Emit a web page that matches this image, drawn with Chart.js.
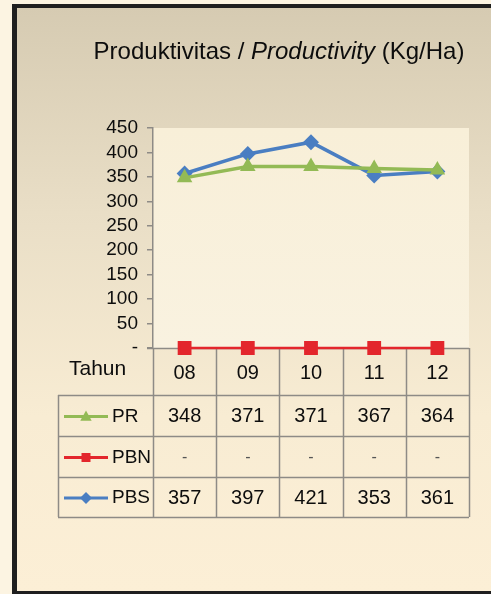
<!DOCTYPE html>
<html><head><meta charset="utf-8">
<script src="https://cdn.jsdelivr.net/npm/chart.js@4.4.0/dist/chart.umd.min.js"></script>
<style>html,body{margin:0;padding:0;background:#fcf4e2;}canvas{display:block;}</style>
</head><body>
<canvas id="c" width="491" height="594"></canvas>
<script>
// ---- data ----
const categories = ['08', '09', '10', '11', '12'];
const seriesNames = ['PR', 'PBN', 'PBS'];
const prValues = [348, 371, 371, 367, 364];
const pbnValues = [0, 0, 0, 0, 0];
const pbsValues = [357, 397, 421, 353, 361];
const yTickValues = [0, 50, 100, 150, 200, 250, 300, 350, 400, 450];
const rowHeaderLabel = 'Tahun';
const titleParts = [
  { text: 'Produktivitas / ', italic: false },
  { text: 'Productivity', italic: true },
  { text: ' (Kg/Ha)', italic: false }
];

// ---- styles ----
const GREEN = '#93ba55', RED = '#e3262c', BLUE = '#4a7ec2';
const GRID = '#8e8b86';
const FONT = '"Liberation Sans", Arial, sans-serif';
const fmt = v => (v === 0 ? '-' : String(v));

const bgPlugin = {
  id: 'bg',
  beforeDraw(chart) {
    const ctx = chart.ctx, W = chart.width, H = chart.height, ca = chart.chartArea;
    ctx.save();
    ctx.fillStyle = '#fcf4e2';
    ctx.fillRect(0, 0, W, H);
    ctx.fillStyle = '#1f1f1f';
    ctx.fillRect(12, 4, W - 12, H - 4);
    const g = ctx.createLinearGradient(0, 8, 0, 591);
    g.addColorStop(0, '#d6cbb2');
    g.addColorStop(0.35, '#e9dec6');
    g.addColorStop(0.7, '#f8ecd3');
    g.addColorStop(1, '#fcefd6');
    ctx.fillStyle = g;
    ctx.fillRect(17, 8, W - 17, 583);
    const pg = ctx.createLinearGradient(0, ca.top, 0, ca.bottom);
    pg.addColorStop(0, '#f8efd8');
    pg.addColorStop(1, '#f9f2e0');
    ctx.fillStyle = pg;
    ctx.fillRect(ca.left, ca.top, ca.right - ca.left, ca.bottom - ca.top);
    // title
    ctx.fillStyle = '#0d0d0d';
    ctx.textBaseline = 'alphabetic';
    ctx.textAlign = 'left';
    let total = 0;
    titleParts.forEach(p => {
      ctx.font = (p.italic ? 'italic ' : '') + '24px ' + FONT;
      total += ctx.measureText(p.text).width;
    });
    let x = 279 - total / 2;
    titleParts.forEach(p => {
      ctx.font = (p.italic ? 'italic ' : '') + '24px ' + FONT;
      ctx.fillText(p.text, x, 59);
      x += ctx.measureText(p.text).width;
    });
    ctx.restore();
  }
};

function drawMarker(ctx, style, x, y, r, color) {
  ctx.fillStyle = color;
  ctx.beginPath();
  if (style === 'triangle') {
    ctx.moveTo(x, y - r);
    ctx.lineTo(x + r * 0.95, y + r * 0.7);
    ctx.lineTo(x - r * 0.95, y + r * 0.7);
  } else if (style === 'rect') {
    ctx.rect(x - r * 0.75, y - r * 0.75, r * 1.5, r * 1.5);
  } else {
    ctx.moveTo(x, y - r); ctx.lineTo(x + r, y); ctx.lineTo(x, y + r); ctx.lineTo(x - r, y);
  }
  ctx.closePath();
  ctx.fill();
}

const tablePlugin = {
  id: 'table',
  beforeDatasetsDraw(chart) {
    const ctx = chart.ctx, ca = chart.chartArea, xs = chart.scales.x;
    const centers = categories.map((c, i) => xs.getPixelForValue(i));
    const colW = (ca.right - ca.left) / categories.length;
    const headTop = ca.bottom, rowLines = [395, 436, 477, 517];
    const tableLeft = 58;
    ctx.save();
    ctx.strokeStyle = GRID;
    ctx.lineWidth = 1.5;
    ctx.beginPath();
    for (let i = 0; i <= categories.length; i++) {
      const x = Math.round(ca.left + i * colW) + 0.5;
      ctx.moveTo(x, headTop); ctx.lineTo(x, rowLines[rowLines.length - 1]);
    }
    ctx.moveTo(ca.left - 6, headTop + 0.5); ctx.lineTo(ca.right, headTop + 0.5);
    rowLines.forEach(y => { ctx.moveTo(tableLeft, y + 0.5); ctx.lineTo(ca.right, y + 0.5); });
    ctx.moveTo(tableLeft + 0.5, rowLines[0]); ctx.lineTo(tableLeft + 0.5, rowLines[rowLines.length - 1]);
    ctx.stroke();

    ctx.fillStyle = '#0d0d0d';
    ctx.textBaseline = 'middle';
    ctx.font = '21px ' + FONT;
    ctx.textAlign = 'left';
    ctx.fillText(rowHeaderLabel, 69, 369);
    ctx.textAlign = 'center';
    ctx.font = '20px ' + FONT;
    categories.forEach((c, i) => ctx.fillText(c, centers[i], 373));

    chart.data.datasets.forEach((ds, r) => {
      const cy = (rowLines[r] + rowLines[r + 1]) / 2 + 1;
      ctx.strokeStyle = ds.borderColor;
      ctx.lineWidth = 3;
      ctx.beginPath(); ctx.moveTo(64, cy); ctx.lineTo(108, cy); ctx.stroke();
      drawMarker(ctx, ds.pointStyle, 86, cy, 6, ds.borderColor);
      ctx.fillStyle = '#0d0d0d';
      ctx.textAlign = 'left';
      ctx.font = '19px ' + FONT;
      ctx.fillText(ds.label, 112, cy);
      ctx.textAlign = 'center';
      ds.data.forEach((v, i) => {
        if (v === 0) { ctx.fillStyle = '#555'; ctx.font = '16px ' + FONT; }
        else { ctx.fillStyle = '#0d0d0d'; ctx.font = '20px ' + FONT; }
        ctx.fillText(fmt(v), centers[i], cy);
      });
    });
    ctx.restore();
  }
};

new Chart(document.getElementById('c'), {
  type: 'line',
  data: {
    labels: categories,
    datasets: [
      { label: seriesNames[0], data: prValues, borderColor: GREEN, backgroundColor: GREEN,
        pointStyle: 'triangle', pointRadius: 5.5, borderWidth: 3.5, clip: false },
      { label: seriesNames[1], data: pbnValues, borderColor: RED, backgroundColor: RED,
        pointStyle: 'rect', pointRadius: 8, borderWidth: 2.5, clip: false },
      { label: seriesNames[2], data: pbsValues, borderColor: BLUE, backgroundColor: BLUE,
        pointStyle: 'rectRot', pointRadius: 5.5, borderWidth: 3.5, clip: false }
    ]
  },
  options: {
    responsive: false,
    animation: false,
    devicePixelRatio: 1,
    layout: { autoPadding: false, padding: { left: 0, right: 22, top: 128, bottom: 246 } },
    plugins: { legend: { display: false }, title: { display: false }, tooltip: { enabled: false } },
    elements: { line: { tension: 0 } },
    scales: {
      x: { display: false, offset: true },
      y: {
        min: 0, max: 450,
        afterFit(s) { s.width = 153; },
        afterBuildTicks(s) { s.ticks = yTickValues.map(v => ({ value: v })); },
        grid: { drawOnChartArea: false, drawTicks: true, tickLength: 6, color: GRID, lineWidth: 1.5 },
        border: { display: true, color: GRID, width: 1.5 },
        ticks: { autoSkip: false, padding: 9, color: '#0d0d0d', font: { family: FONT, size: 19 }, callback: v => fmt(v) }
      }
    }
  },
  plugins: [bgPlugin, tablePlugin]
});
</script>
</body></html>
